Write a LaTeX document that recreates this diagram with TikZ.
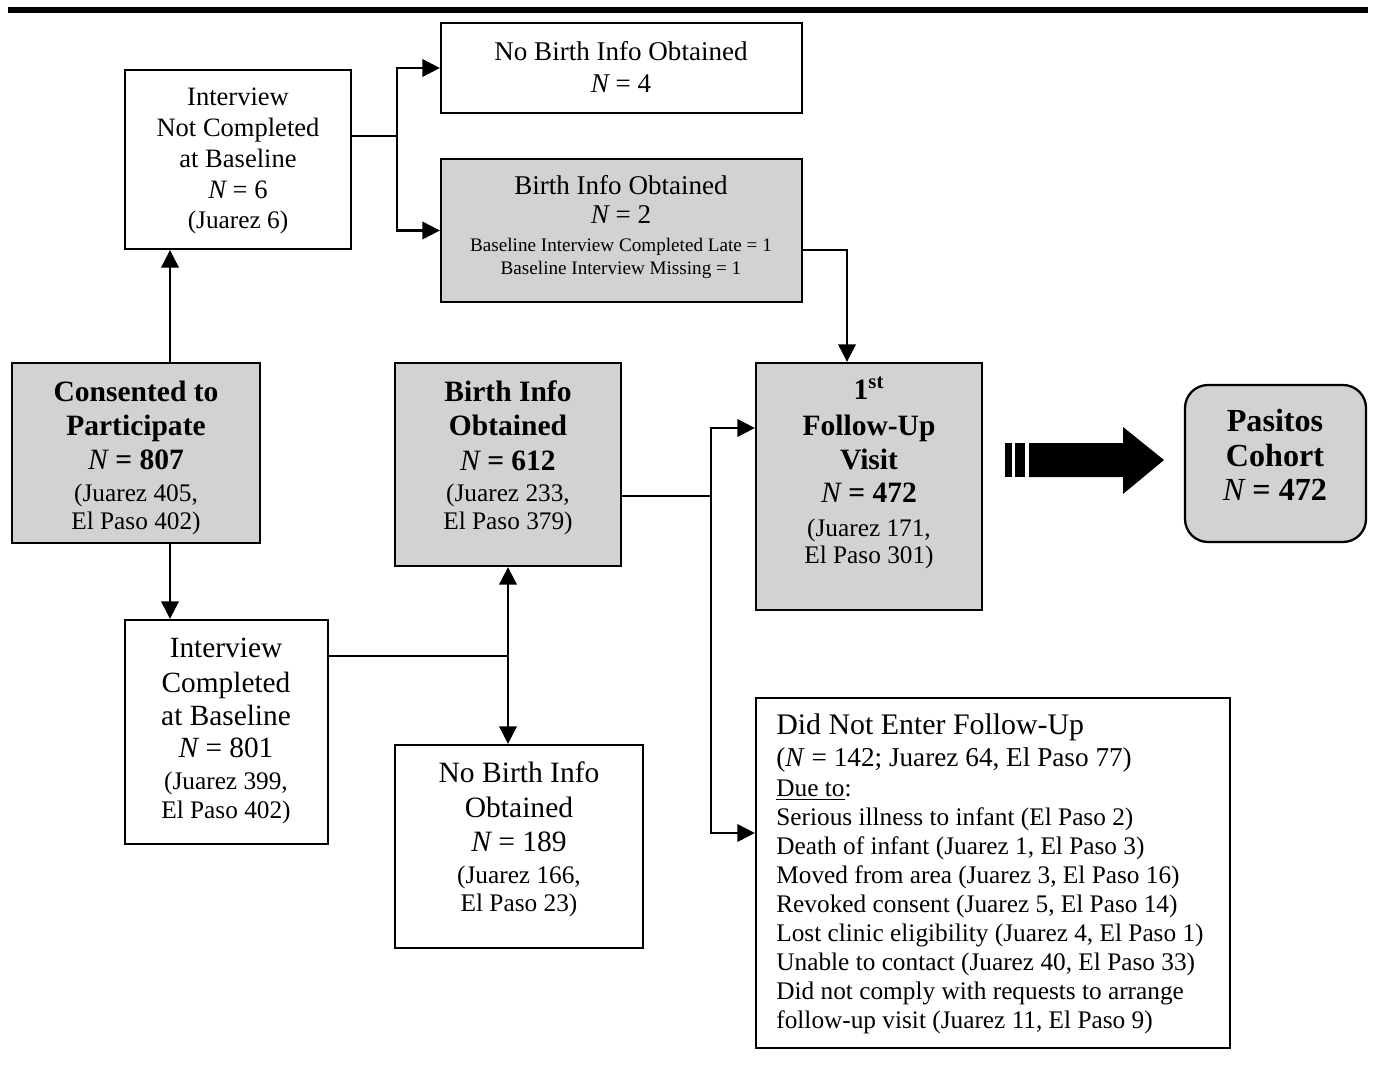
\documentclass[tikz,border=0pt]{standalone}
\usepackage{fontspec}
\setmainfont{Liberation Serif}
\usetikzlibrary{arrows.meta,fit}
\definecolor{boxgray}{RGB}{210,210,210}
\newcommand\NI{{\mdseries\itshape N}}
\newcommand\pn[1]{{\mdseries\fontsize{14.4}{16}\selectfont #1}}
\newcommand\sm[1]{{\fontsize{10.9}{12}\selectfont #1}}
\begin{document}
\begin{tikzpicture}[x=0.02cm,y=-0.02cm,
  box/.style={draw, line width=1.3pt, inner sep=0pt},
  gbox/.style={box, fill=boxgray},
  conn/.style={line width=1.2pt},
  arr/.style={conn, -{Triangle[length=10pt,width=10pt]}},
  txt/.style={align=center, inner sep=0pt},
  bigtxt/.style={txt, font=\fontsize{16.8}{19.4}\selectfont\bfseries},
]
\useasboundingbox (0,0) rectangle (1378,1067);
\fill (8,7) rectangle (1368,13);

% boxes
\node[box, fit={(441,23)(802,113)}] (nb4) {};
\node[txt, font=\fontsize{15.4}{18.2}\selectfont] (nb4t) at (621,67) {No Birth Info Obtained\\\NI{} = 4};

\node[box, fit={(125,70)(351,249)}] (inc) {};
\node[txt, font=\fontsize{15.1}{17.6}\selectfont] (inct) at (238,161) {Interview\\Not Completed\\at Baseline\\\NI{} = 6\\\pn{(Juarez 6)}};

\node[gbox, fit={(441,159)(802,302)}] (bi2) {};
\node[txt, font=\fontsize{15.4}{17}\selectfont] (bi2t) at (621,227) {Birth Info Obtained\\\NI{} = 2\\[-1.1pt]\sm{Baseline Interview Completed Late = 1}\\[-3.9pt]\sm{Baseline Interview Missing = 1}};

\node[gbox, fit={(12,363)(260,543)}] (cons) {};
\node[bigtxt] (const) at (136,458) {Consented to\\Participate\\\NI{} = 807\\[-1.3pt]\pn{(Juarez 405,}\\[-3.6pt]\pn{El Paso 402)}};

\node[gbox, fit={(395,363)(621,566)}] (bi612) {};
\node[bigtxt] (bi612t) at (508,458) {Birth Info\\Obtained\\\NI{} = 612\\[-1.3pt]\pn{(Juarez 233,}\\[-3.6pt]\pn{El Paso 379)}};

\node[gbox, fit={(756,363)(982,610)}] (fu) {};
\node[bigtxt] (fut) at (869,473) {1\textsuperscript{st}\\[1pt]Follow-Up\\Visit\\[-0.6pt]\NI{} = 472\\[-0.3pt]\pn{(Juarez 171,}\\[-4pt]\pn{El Paso 301)}};

\node[gbox, rounded corners=0.46cm, fit={(1185,385)(1366,542)}] (coh) {};
\node[txt, font=\fontsize{18.3}{19.6}\selectfont\bfseries] (coht) at (1275,455) {Pasitos\\Cohort\\\NI{} = 472};

\node[box, fit={(125,620)(328,844)}] (ic) {};
\node[txt, font=\fontsize{16.7}{19.9}\selectfont] (ict) at (226,731) {Interview\\Completed\\[-1.1pt]at Baseline\\[-1.7pt]\NI{} = 801\\[-2pt]\pn{(Juarez 399,}\\[-3.3pt]\pn{El Paso 402)}};

\node[box, fit={(395,745)(643,948)}] (nb189) {};
\node[txt, font=\fontsize{16.8}{19.9}\selectfont] (nb189t) at (519,839) {No Birth Info\\Obtained\\[-0.6pt]\NI{} = 189\\[-1.7pt]\pn{(Juarez 166,}\\[-4pt]\pn{El Paso 23)}};

\node[box, fit={(756,698)(1230,1048)}] (dne) {};
\node[align=left, inner sep=0pt, anchor=west, font=\fontsize{14.4}{16.5}\selectfont] (dnet) at (776,874) {{\fontsize{17}{17}\selectfont Did Not Enter Follow-Up}\\[1.5pt]
{\fontsize{15.5}{16}\selectfont (\textit{N} = 142; Juarez 64, El Paso 77)}\\[1pt]
\underline{Due to}:\\
Serious illness to infant (El Paso 2)\\
Death of infant (Juarez 1, El Paso 3)\\
Moved from area (Juarez 3, El Paso 16)\\
Revoked consent (Juarez 5, El Paso 14)\\
Lost clinic eligibility (Juarez 4, El Paso 1)\\
Unable to contact (Juarez 40, El Paso 33)\\
Did not comply with requests to arrange\\
follow-up visit (Juarez 11, El Paso 9)};

% connectors
\coordinate (xa) at (170,0);
\draw[arr] (cons.north -| xa) -- (inc.south -| xa);
\draw[arr] (cons.south -| xa) -- (ic.north -| xa);

\coordinate (ja) at (397,136);
\draw[conn] (inc.east |- ja) -- (ja);
\draw[arr] (ja) |- (nb4.west);
\draw[arr] (ja) |- (bi2.west);

\coordinate (jb) at (847,250);
\draw[arr] (bi2.east |- jb) -| (fu.north -| jb);

\coordinate (jc) at (508,656);
\draw[conn] (ic.east |- jc) -- (jc);
\draw[arr] (jc) -- (bi612.south);
\draw[arr] (jc) -- (nb189.north -| jc);

\coordinate (jd) at (711,496);
\coordinate (ye) at (0,428);
\coordinate (yf) at (0,833);
\draw[conn] (bi612.east |- jd) -- (jd);
\draw[arr] (jd) |- (fu.west |- ye);
\draw[arr] (jd) |- (dne.west |- yf);

% big arrow
\fill (1005,443) rectangle (1012,477);
\fill (1015,443) rectangle (1025,477);
\fill (1029,443) -- (1123,443) -- (1123,427) -- (1164,460) -- (1123,494) -- (1123,477) -- (1029,477) -- cycle;
\end{tikzpicture}
\end{document}
